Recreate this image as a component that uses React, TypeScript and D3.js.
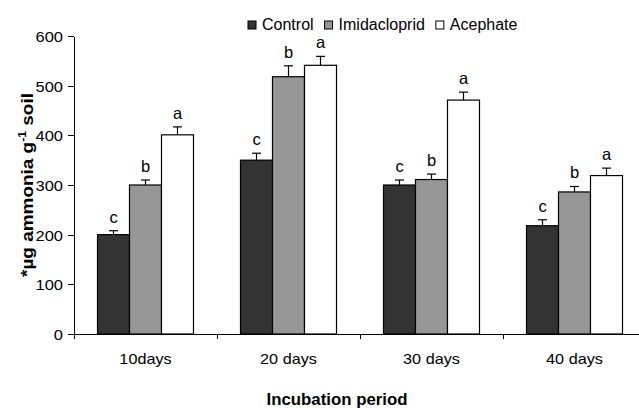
import { useEffect, useRef } from 'react'
import * as d3 from 'd3'

// values
const categories = ['10days', '20 days', '30 days', '40 days']
const seriesNames = ['Control', 'Imidacloprid', 'Acephate']
const control = [200, 350, 300, 218]
const imidacloprid = [300, 518, 311, 286]
const acephate = [401, 541, 471, 319]
const controlErr = [8, 14, 10, 12]
const imidaclopridErr = [10, 22, 11, 11]
const acephateErr = [16, 18, 16, 15]
const controlLetters = ['c', 'c', 'c', 'c']
const imidaclopridLetters = ['b', 'b', 'b', 'b']
const acephateLetters = ['a', 'a', 'a', 'a']
const yTicks = [0, 100, 200, 300, 400, 500, 600]
const colors = ['#333333', '#969696', '#ffffff']

const FONT = '"Liberation Sans", Arial, Helvetica, sans-serif'

function stretch(sel: any, k: number) {
  sel.each(function (this: any) {
    const len = this.getComputedTextLength()
    d3.select(this).attr('textLength', len * k).attr('lengthAdjust', 'spacingAndGlyphs')
  })
}

function App() {
  const ref = useRef<SVGSVGElement | null>(null)

  useEffect(() => {
    if (!ref.current) return
    const width = 639, height = 408
    const margin = { top: 36, right: -7, bottom: 74, left: 74 }

    const svg = d3.select(ref.current)
    svg.selectAll('*').remove()
    svg.attr('width', width).attr('height', height)
      .style('font-family', FONT)

    const values = [control, imidacloprid, acephate]
    const errs = [controlErr, imidaclopridErr, acephateErr]
    const letters = [controlLetters, imidaclopridLetters, acephateLetters]

    const y = d3.scaleLinear()
      .domain([0, 600])
      .range([height - margin.bottom, margin.top])

    const x0 = d3.scaleBand()
      .domain(categories)
      .range([margin.left, width - margin.right])
    const bw = x0.bandwidth()
    const groupW = 96
    const x1 = d3.scaleBand()
      .domain(seriesNames)
      .range([(bw - groupW) / 2, (bw + groupW) / 2])

    const y0 = y(0)

    // y axis
    const yAxis = svg.append('g')
      .attr('transform', `translate(${margin.left},0)`)
      .call(d3.axisLeft(y).tickValues(yTicks).tickSizeInner(6).tickSizeOuter(0).tickPadding(5))
    yAxis.select('.domain').attr('stroke', '#000').attr('shape-rendering', 'crispEdges')
    yAxis.selectAll('line').attr('stroke', '#000').attr('shape-rendering', 'crispEdges')
    yAxis.selectAll('text')
      .attr('font-size', 15)
      .attr('font-family', FONT)
      .attr('fill', '#000')
      .attr('dy', '0.36em')
    stretch(yAxis.selectAll('text'), 1.1)

    // x axis
    const xAxis = svg.append('g')
    xAxis.append('line')
      .attr('x1', margin.left - 6).attr('x2', width)
      .attr('y1', y0).attr('y2', y0)
      .attr('stroke', '#000').attr('shape-rendering', 'crispEdges')
    const bounds = categories.map(c => x0(c) as number).concat([width - margin.right])
    xAxis.selectAll('line.tick')
      .data(bounds)
      .join('line')
      .attr('class', 'tick')
      .attr('x1', d => d).attr('x2', d => d)
      .attr('y1', y0).attr('y2', y0 + 5)
      .attr('stroke', '#000').attr('shape-rendering', 'crispEdges')
    const xLabels = xAxis.selectAll('text')
      .data(categories)
      .join('text')
      .attr('x', d => (x0(d) as number) + bw / 2)
      .attr('y', 364)
      .attr('text-anchor', 'middle')
      .attr('font-size', 15)
      .text(d => d)
    stretch(xLabels, 1.08)

    // bars, error bars and letters
    seriesNames.forEach((s, si) => {
      const g = svg.append('g')
      categories.forEach((c, ci) => {
        const v = values[si][ci]
        const e = errs[si][ci]
        const bx = (x0(c) as number) + (x1(s) as number)
        const w = x1.bandwidth()
        const cx = bx + w / 2
        g.append('rect')
          .attr('x', bx).attr('y', y(v))
          .attr('width', w).attr('height', y0 - y(v))
          .attr('fill', colors[si])
          .attr('stroke', '#000').attr('stroke-width', 1.2)
        g.append('line')
          .attr('x1', cx).attr('x2', cx)
          .attr('y1', y(v)).attr('y2', y(v + e))
          .attr('stroke', '#000').attr('stroke-width', 1.2)
        g.append('line')
          .attr('x1', cx - 4.5).attr('x2', cx + 4.5)
          .attr('y1', y(v + e)).attr('y2', y(v + e))
          .attr('stroke', '#000').attr('stroke-width', 1.2)
        g.append('text')
          .attr('x', cx)
          .attr('y', y(v + e) - 8)
          .attr('text-anchor', 'middle')
          .attr('font-size', 16.5)
          .text(letters[si][ci])
      })
    })

    // legend
    let lx = 248
    seriesNames.forEach((s, si) => {
      svg.append('rect')
        .attr('x', lx).attr('y', 21)
        .attr('width', 8).attr('height', 8)
        .attr('fill', colors[si])
        .attr('stroke', '#000').attr('stroke-width', 1)
      const t = svg.append('text')
        .attr('x', lx + 14).attr('y', 29.5)
        .attr('font-size', 16)
        .text(s)
      const tw = (t.node() as SVGTextElement).getComputedTextLength()
      lx += 14 + tw + 11
    })

    // y title
    const yt = svg.append('g')
    const ytText = yt.append('text')
      .attr('text-anchor', 'middle')
      .attr('font-size', 17)
      .attr('font-weight', 'bold')
    ytText.append('tspan').text('*µg ammonia g')
    ytText.append('tspan').attr('font-size', 11).attr('dy', -7).text('-1')
    ytText.append('tspan').attr('dy', 7).text(' soil')
    const ytw = (ytText.node() as SVGTextElement).getBBox().width
    yt.attr('transform', `translate(33,185) rotate(-90) scale(${184 / ytw},1)`)

    // x title
    svg.append('text')
      .attr('x', 337).attr('y', 405)
      .attr('text-anchor', 'middle')
      .attr('font-size', 16)
      .attr('font-weight', 'bold')
      .attr('textLength', 141)
      .attr('lengthAdjust', 'spacingAndGlyphs')
      .text('Incubation period')
  }, [])

  return (
    <svg ref={ref} style={{ position: 'absolute', left: 0, top: 0, background: '#fff' }}></svg>
  )
}

export default App
